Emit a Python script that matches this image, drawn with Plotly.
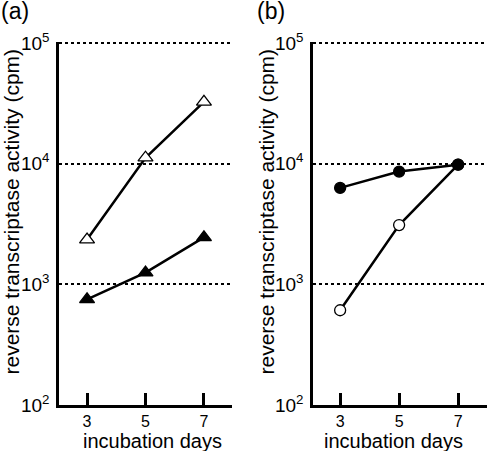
import plotly.graph_objects as go

days = [3, 5, 7]
a_open_tri = [2350, 11200, 32500]
a_filled_tri = [750, 1250, 2450]
b_filled_circ = [6300, 8600, 9800]
b_open_circ = [610, 3100, 9800]

y_tickvals = [100, 1000, 10000, 100000]
y_ticktext = ["10<sup>2</sup>", "10<sup>3</sup>", "10<sup>4</sup>", "10<sup>5</sup>"]
x_tickvals = [3, 5, 7]
panel_labels = ["(a)", "(b)"]
x_title = "incubation days"
y_title = "reverse transcriptase activity (cpm)"

FONT = "Liberation Sans, Arial, sans-serif"
W, H = 487, 451

fig = go.Figure()

def add(x, y, xa, ya, symbol, fill):
    fig.add_trace(go.Scatter(
        x=x, y=y, xaxis=xa, yaxis=ya, mode="lines+markers",
        line=dict(color="black", width=2.5),
        marker=dict(symbol=symbol, size=13 if "triangle" in symbol else 11,
                    color=fill, line=dict(color="black", width=1.3)),
        showlegend=False, cliponaxis=False))

add(days, a_open_tri, "x", "y", "triangle-up", "white")
add(days, a_filled_tri, "x", "y", "triangle-up", "black")
add(days, b_open_circ, "x2", "y2", "circle", "white")
add(days, b_filled_circ, "x2", "y2", "circle", "black")

# keep 10^2 at y=405px and 10^5 at y=43px; range top slightly above 5 so the 10^5 grid shows
dec_px = (405 - 43) / 3.0
top_ext = 0.01
ydom = [1 - 405 / H, 1 - (43 - top_ext * dec_px) / H]
xcommon = dict(tickvals=x_tickvals, ticks="inside", ticklen=12, tickwidth=2.5,
               tickcolor="black", showline=True, linewidth=2.5, linecolor="black",
               showgrid=False, zeroline=False, automargin=False, ticklabelstandoff=0,
               tickfont=dict(family=FONT, size=16, color="black"))
ycommon = dict(type="log", range=[2, 5 + top_ext], tickvals=y_tickvals, ticktext=y_ticktext,
               ticks="", showline=True, linewidth=2.5, linecolor="black",
               showgrid=True, gridcolor="black", gridwidth=2, griddash="3px,3px",
               zeroline=False, domain=ydom, automargin=False, ticklabelstandoff=3,
               tickfont=dict(family=FONT, size=19, color="black"))

fig.update_layout(
    template="none",
    width=W, height=H, margin=dict(l=0, r=0, t=0, b=0, pad=0),
    plot_bgcolor="white", paper_bgcolor="white",
    font=dict(family=FONT, color="black"),
    xaxis=dict(domain=[59 / W, 232 / W], range=[2.04, 7.96], anchor="y", **xcommon),
    yaxis=dict(anchor="x", **ycommon),
    xaxis2=dict(domain=[313 / W, 1.0], range=[2.08, 7.98], anchor="y2", **xcommon),
    yaxis2=dict(anchor="x2", **ycommon),
)

# panel labels
for lbl, xpos in zip(panel_labels, [0.0, 256 / W]):
    fig.add_annotation(text=lbl, xref="paper", yref="paper", x=xpos, y=1 - 11 / H,
                       xanchor="left", yanchor="middle", showarrow=False, borderpad=0,
                       font=dict(family=FONT, size=23, color="black"))

# axis titles
for xc in [152 / W, 393 / W]:
    fig.add_annotation(text=x_title, xref="paper", yref="paper", x=xc, y=1 - 441 / H,
                       xanchor="center", yanchor="middle", showarrow=False, borderpad=0,
                       font=dict(family=FONT, size=20, color="black"))
for xc in [11 / W, 266 / W]:
    fig.add_annotation(text=y_title, xref="paper", yref="paper", x=xc, y=1 - 211.5 / H,
                       xanchor="center", yanchor="middle", showarrow=False, borderpad=0,
                       textangle=-90, font=dict(family=FONT, size=21, color="black"))

fig.write_html("out.html", config={"displayModeBar": False},
               post_script="document.body.style.margin='0';document.body.style.overflow='hidden';")
